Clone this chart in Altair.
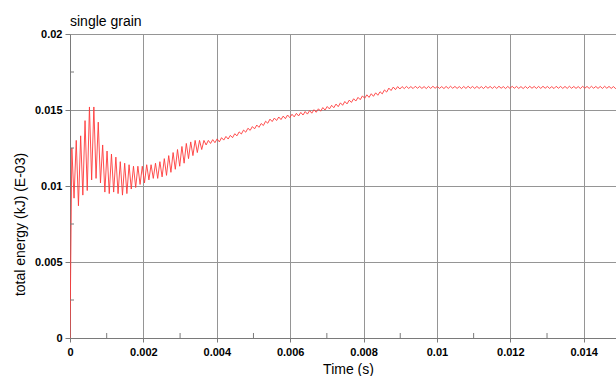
import altair as alt
import pandas as pd

# ---- data (energy values in units of 1e-3 kJ) ----
T0 = 0.00005          # time of first peak (s)
HALF = 0.00006        # sampling step: half an oscillation period (s)

PEAKS = [
    12.5, 13.0, 13.3, 14.3, 15.2, 15.2, 14.2, 12.7, 12.3, 12.1,
    11.9, 11.6, 11.5, 11.4, 11.3, 11.3, 11.3, 11.4, 11.4, 11.5,
    11.6, 11.8, 12.0, 12.2, 12.4, 12.6, 12.8, 12.9, 13.0, 13.0,
    13.0, 13.0, 13.05, 13.1,
    13.18, 13.26, 13.33, 13.44, 13.56, 13.68, 13.80, 13.91, 14.01, 14.11,
    14.26, 14.40, 14.47, 14.54, 14.60, 14.67, 14.72, 14.78, 14.84, 14.90,
    14.96, 15.02, 15.08, 15.16, 15.23, 15.31, 15.39, 15.47, 15.56, 15.65,
    15.74, 15.83, 15.93, 16.00, 16.07, 16.13, 16.20, 16.32, 16.44, 16.51,
    16.54,
    16.54, 16.55, 16.54, 16.56, 16.55, 16.54, 16.55, 16.56, 16.55, 16.54,
    16.55, 16.56, 16.55, 16.54, 16.55, 16.56, 16.55, 16.55, 16.54, 16.56,
    16.55, 16.55, 16.56, 16.54, 16.55, 16.56, 16.55, 16.54, 16.55, 16.56,
    16.55, 16.55, 16.56, 16.55, 16.54, 16.56, 16.55, 16.55, 16.56, 16.55,
    16.54, 16.56, 16.55, 16.56, 16.55, 16.55, 16.56, 16.55, 16.54, 16.56,
    16.55, 16.56, 16.55,
]
TROUGHS = [
    9.2, 8.7, 9.4, 9.7, 10.4, 10.5, 10.2, 9.6, 9.5, 9.6,
    9.5, 9.4, 9.5, 9.8, 9.9, 10.1, 10.2, 10.4, 10.5, 10.5,
    10.6, 10.7, 10.9, 11.1, 11.3, 11.5, 11.8, 12.0, 12.2, 12.4,
    12.7, 12.8, 12.85, 12.9,
    13.02, 13.09, 13.18, 13.30, 13.42, 13.54, 13.66, 13.76, 13.86, 13.98,
    14.13, 14.24, 14.31, 14.37, 14.43, 14.50, 14.55, 14.61, 14.67, 14.73,
    14.79, 14.85, 14.92, 15.00, 15.07, 15.15, 15.22, 15.31, 15.40, 15.50,
    15.59, 15.68, 15.77, 15.83, 15.90, 15.97, 16.06, 16.18, 16.28, 16.34,
    16.38,
    16.41, 16.42, 16.41, 16.43, 16.42, 16.41, 16.42, 16.43, 16.42, 16.41,
    16.42, 16.43, 16.42, 16.41, 16.42, 16.43, 16.42, 16.42, 16.41, 16.43,
    16.42, 16.42, 16.43, 16.41, 16.42, 16.43, 16.42, 16.41, 16.42, 16.43,
    16.42, 16.42, 16.43, 16.42, 16.41, 16.43, 16.42, 16.42, 16.43, 16.42,
    16.41, 16.43, 16.42, 16.43, 16.42, 16.42, 16.43, 16.42, 16.41, 16.43,
    16.42, 16.43, 16.42,
]

X_TICKS = [0, 0.002, 0.004, 0.006, 0.008, 0.01, 0.012, 0.014]
X_MINOR = [0.001, 0.003, 0.005, 0.007, 0.009, 0.011, 0.013]
Y_TICKS = [0, 0.005, 0.01, 0.015, 0.02]
Y_MINOR = [0.0025, 0.0075, 0.0125, 0.0175]

assert len(PEAKS) == len(TROUGHS)

rows = [{"t": 0.0, "e": 0.0}]
for k, (p, q) in enumerate(zip(PEAKS, TROUGHS)):
    rows.append({"t": T0 + 2 * k * HALF, "e": p / 1000})
    rows.append({"t": T0 + (2 * k + 1) * HALF, "e": q / 1000})
df = pd.DataFrame(rows)

FONT = "Liberation Sans"
AX = "#7a7a7a"
GRID = "#959595"

xscale = alt.Scale(domain=[0, 0.01488], nice=False, zero=False)
yscale = alt.Scale(domain=[0, 0.02], nice=False)

xaxis = alt.Axis(
    values=X_TICKS,
    labelExpr="'' + datum.value",
    labelFont=FONT, labelFontSize=11, labelFontWeight="bold",
    labelColor="black", labelPadding=4, labelFlush=False,
    tickSize=4, tickColor=AX, domainColor=AX,
    grid=True, gridColor=GRID, gridWidth=1,
    title="Time (s)", titleFont=FONT, titleFontSize=14,
    titleFontWeight="normal", titleColor="black",
    titleX=278, titleY=24, titleBaseline="top",
)
yaxis = alt.Axis(
    values=Y_TICKS,
    labelExpr="'' + datum.value",
    labelFont=FONT, labelFontSize=11, labelFontWeight="bold",
    labelColor="black", labelPadding=3,
    tickSize=5, tickColor=AX, domainColor=AX,
    grid=True, gridColor=GRID, gridWidth=1,
    title="total energy (kJ) (E-03)", titleFont=FONT, titleFontSize=14,
    titleFontWeight="normal", titleColor="black",
    titleX=-46, titleY=190, titleAngle=270, titleBaseline="alphabetic",
)

line = alt.Chart(df).mark_line(color="#ff3a3a", strokeWidth=0.9, clip=True).encode(
    x=alt.X("t:Q", scale=xscale, axis=xaxis),
    y=alt.Y("e:Q", scale=yscale, axis=yaxis),
)

ymin = alt.Chart(pd.DataFrame({"v": Y_MINOR})).mark_rule(color=AX, strokeWidth=1).encode(
    y=alt.Y("v:Q", scale=yscale, axis=yaxis),
    x=alt.value(0),
    x2=alt.value(4),
)
xmin = alt.Chart(pd.DataFrame({"v": X_MINOR})).mark_rule(color=AX, strokeWidth=1).encode(
    x=alt.X("v:Q", scale=xscale, axis=xaxis),
    y=alt.value(304),
    y2=alt.value(299),
)

chart = alt.layer(line, ymin, xmin).properties(
    width=546,
    height=304,
    title=alt.Title("single grain", anchor="start", frame="group", font=FONT,
                    fontSize=14, fontWeight="normal", color="black", offset=4, dy=5),
    autosize=alt.AutoSizeParams(type="none"),
    padding={"left": 70, "top": 34, "right": 0, "bottom": 38},
    background="white",
).configure_view(stroke=None)

chart.save("out.html", embed_options={"renderer": "svg", "actions": False})
